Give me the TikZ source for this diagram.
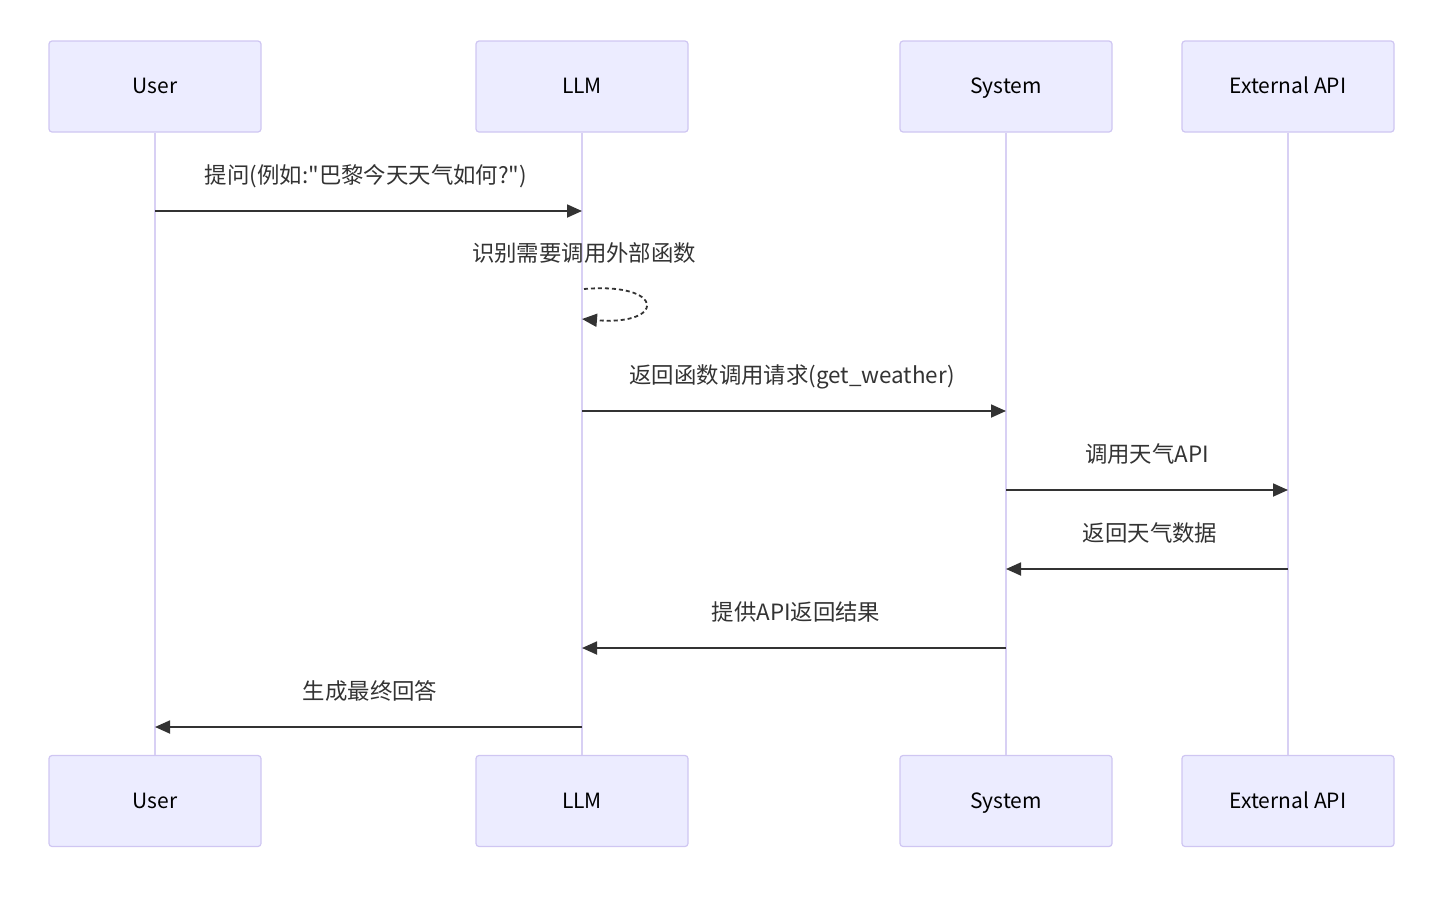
\documentclass[tikz,border=0pt]{standalone}
\usepackage{fontspec}
\newfontfamily\cjk{Noto Sans CJK SC}
\usetikzlibrary{arrows.meta,positioning}
\definecolor{actfill}{HTML}{ECECFF}
\definecolor{actdraw}{HTML}{CFC6F2}
\definecolor{lifeline}{HTML}{D8D0F4}
\definecolor{msgcol}{HTML}{333333}
\begin{document}
\begin{tikzpicture}[x=1pt,y=-1pt,
  actor/.style={draw=actdraw,fill=actfill,line width=1.2pt,rounded corners=3pt,
    minimum width=212pt,minimum height=91pt,inner sep=0pt,
    text height=19pt,text depth=5pt,
    font=\cjk\fontsize{21}{25}\selectfont,text=black},
  life/.style={draw=lifeline,line width=2pt},
  msg/.style={draw=msgcol,line width=1.8pt,-{Triangle[length=15pt,width=13pt]}},
  selfmsg/.style={draw=msgcol,line width=1.8pt,dash pattern=on 4pt off 3pt,-{Triangle[length=15pt,width=13pt]}},
  lbl/.style={font=\cjk\fontsize{22.4}{26}\selectfont,text=msgcol,inner sep=0pt,
    text height=21pt,text depth=5pt}]
\useasboundingbox (0,0) rectangle (1436,898);
% actors top
\node[actor] (u1) at (155,86.5) {User};
\node[actor] (l1) at (582,86.5) {LLM};
\node[actor] (s1) at (1006,86.5) {System};
\node[actor] (e1) at (1288,86.5) {External API};
% actors bottom
\node[actor] (u2) at (155,801) {User};
\node[actor] (l2) at (582,801) {LLM};
\node[actor] (s2) at (1006,801) {System};
\node[actor] (e2) at (1288,801) {External API};
% lifelines
\draw[life] (u1.south) -- (u2.north);
\draw[life] (l1.south) -- (l2.north);
\draw[life] (s1.south) -- (s2.north);
\draw[life] (e1.south) -- (e2.north);
% messages
\coordinate (m1a) at (u1 |- 0,211);
\coordinate (m1b) at (l1 |- 0,211);
\draw[msg] (m1a) -- (m1b);
\node[lbl] (t1) at (366,175) {提问(例如:"巴黎今天天气如何?")};
% self
\coordinate (m2a) at ([xshift=2pt]l1 |- 0,289);
\coordinate (m2b) at (l1 |- 0,319);
\draw[selfmsg] (m2a) .. controls (666,282) and (666,326) .. (m2b);
\node[lbl] (t2) at (584,253) {识别需要调用外部函数};
% msg 3
\coordinate (m3a) at (l1 |- 0,411);
\coordinate (m3b) at (s1 |- 0,411);
\draw[msg] (m3a) -- (m3b);
\node[lbl] (t3) at (792,375) {返回函数调用请求(get\_weather)};
% msg 4
\coordinate (m4a) at (s1 |- 0,490);
\coordinate (m4b) at (e1 |- 0,490);
\draw[msg] (m4a) -- (m4b);
\node[lbl] (t4) at (1147,454) {调用天气API};
% msg 5
\coordinate (m5a) at (e1 |- 0,569);
\coordinate (m5b) at (s1 |- 0,569);
\draw[msg] (m5a) -- (m5b);
\node[lbl] (t5) at (1150,533) {返回天气数据};
% msg 6
\coordinate (m6a) at (s1 |- 0,648);
\coordinate (m6b) at (l1 |- 0,648);
\draw[msg] (m6a) -- (m6b);
\node[lbl] (t6) at (796,612) {提供API返回结果};
% msg 7
\coordinate (m7a) at (l1 |- 0,727);
\coordinate (m7b) at (u1 |- 0,727);
\draw[msg] (m7a) -- (m7b);
\node[lbl] (t7) at (370,691) {生成最终回答};
\end{tikzpicture}
\end{document}
